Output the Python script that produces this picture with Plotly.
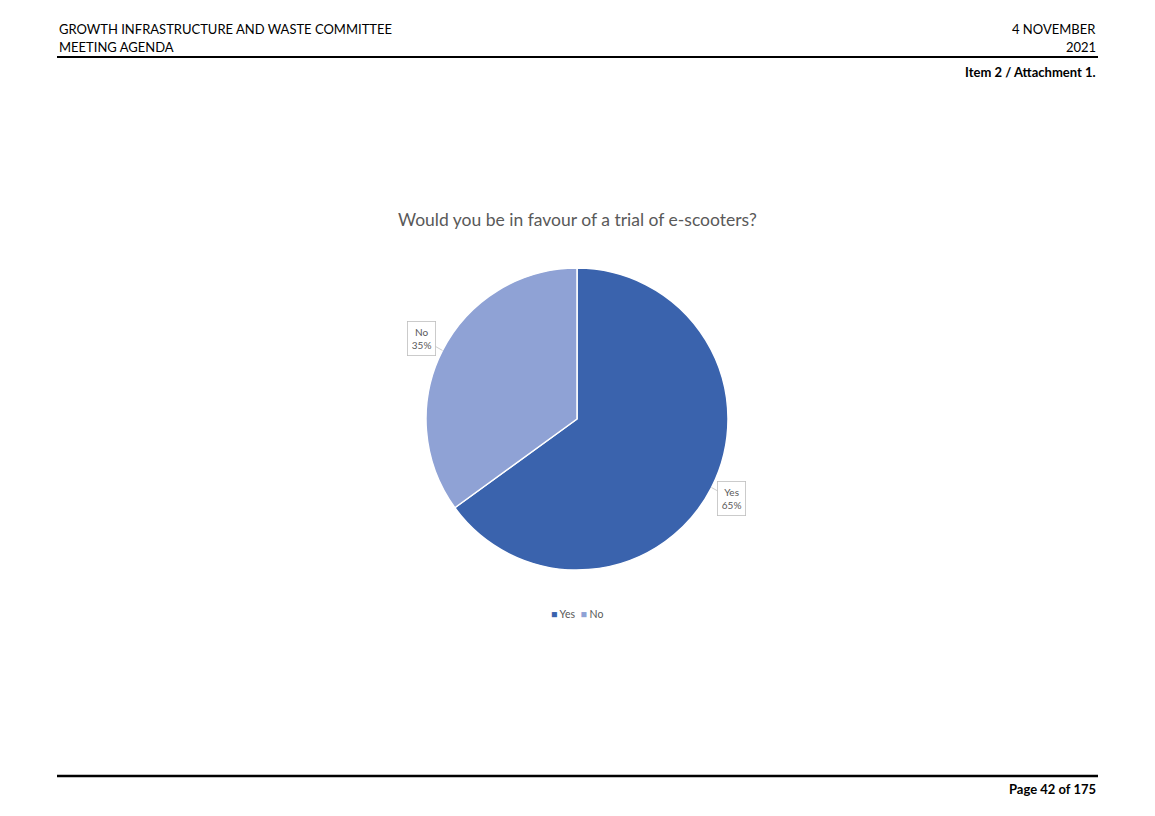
import math
import plotly.graph_objects as go

W, H = 1155, 816

labels = ["Yes", "No"]
values = [65, 35]
colors = ["#3A63AD", "#8FA2D5"]
title = "Would you be in favour of a trial of e-scooters?"

header_left = ["GROWTH INFRASTRUCTURE AND WASTE COMMITTEE", "MEETING AGENDA"]
header_right = ["4 NOVEMBER", "2021"]
item_text = "Item 2 / Attachment 1."
page_text = "Page 42 of 175"

# pie geometry (pixels)
cx, cy, r = 577, 419, 151
dom_x = [(cx - r) / W, (cx + r) / W]
dom_y = [1 - (cy + r) / H, 1 - (cy - r) / H]

fig = go.Figure(go.Pie(
    labels=labels, values=values, sort=False, direction="clockwise", rotation=0,
    marker=dict(colors=colors, line=dict(color="white", width=1.5)),
    textinfo="none", hoverinfo="label+percent",
    domain=dict(x=dom_x, y=dom_y),
))

font = "Lato, 'Open Sans', sans-serif"
gray = "#595959"

# callout labels computed from data
total = sum(values)
start = 0.0
offsets = {"Yes": (20, 11), "No": (-21, -12)}
for lab, v in zip(labels, values):
    mid = start + v / total * 360 / 2
    start += v / total * 360
    a = math.radians(mid)
    px = cx + r * math.sin(a)
    py = cy - r * math.cos(a)
    ax, ay = offsets[lab]
    fig.add_annotation(
        x=px / W, y=1 - py / H, xref="paper", yref="paper",
        text=f"{lab}<br>{round(v / total * 100)}%",
        showarrow=True, arrowhead=0, arrowwidth=0.8, arrowcolor="#BFBFBF",
        ax=ax * 1.0, ay=ay * 1.0,
        font=dict(family=font, size=10, color=gray),
        bordercolor="#BFBFBF", borderwidth=0.8, borderpad=4, bgcolor="white",
    )

# title
fig.add_annotation(x=cx / W, y=1 - 220 / H, xref="paper", yref="paper", text=title,
                   showarrow=False, font=dict(family=font, size=17.5, color=gray),
                   xanchor="center", yanchor="middle")

# legend drawn from labels/colors
legend_text = "&nbsp;&nbsp;".join(
    f"<span style='color:{c}'>■</span> {l}" for l, c in zip(labels, colors))
fig.add_annotation(x=cx / W, y=1 - 614 / H, xref="paper", yref="paper", text=legend_text,
                   showarrow=False, font=dict(family=font, size=10.5, color=gray),
                   xanchor="center", yanchor="middle")

hfont = dict(family=font, size=13, color="#000000")
fig.add_annotation(x=57 / W, y=1 - 29 / H, xref="paper", yref="paper", text=header_left[0],
                   showarrow=False, font=hfont, xanchor="left", yanchor="middle")
fig.add_annotation(x=57 / W, y=1 - 47 / H, xref="paper", yref="paper", text=header_left[1],
                   showarrow=False, font=hfont, xanchor="left", yanchor="middle")
fig.add_annotation(x=1098 / W, y=1 - 29 / H, xref="paper", yref="paper", text=header_right[0],
                   showarrow=False, font=hfont, xanchor="right", yanchor="middle")
fig.add_annotation(x=1098 / W, y=1 - 47 / H, xref="paper", yref="paper", text=header_right[1],
                   showarrow=False, font=hfont, xanchor="right", yanchor="middle")
fig.add_annotation(x=1098 / W, y=1 - 72 / H, xref="paper", yref="paper", text=f"<b>{item_text}</b>",
                   showarrow=False, font=hfont, xanchor="right", yanchor="middle")
fig.add_annotation(x=1098 / W, y=1 - 789 / H, xref="paper", yref="paper", text=f"<b>{page_text}</b>",
                   showarrow=False, font=hfont, xanchor="right", yanchor="middle")

fig.add_shape(type="line", xref="paper", yref="paper", x0=57 / W, x1=1098 / W,
              y0=1 - 57 / H, y1=1 - 57 / H, line=dict(color="black", width=2))
fig.add_shape(type="line", xref="paper", yref="paper", x0=57 / W, x1=1098 / W,
              y0=1 - 776 / H, y1=1 - 776 / H, line=dict(color="black", width=2.5))

fig.update_layout(
    width=W, height=H, margin=dict(l=0, r=0, t=0, b=0),
    paper_bgcolor="white", plot_bgcolor="white",
    showlegend=False,
)

fig.write_html("out.html", config={"displayModeBar": False},
               post_script="document.body.style.margin='0';document.body.style.overflow='hidden';")
